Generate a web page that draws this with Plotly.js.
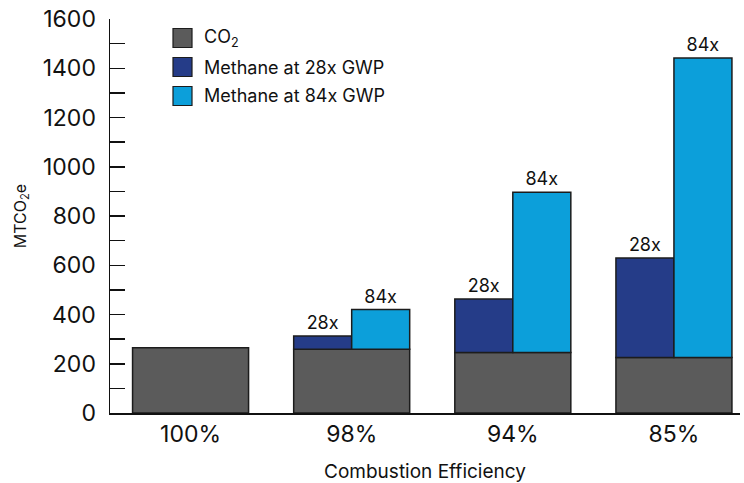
<!DOCTYPE html>
<html>
<head>
<meta charset="utf-8">
<script src="https://cdn.plot.ly/plotly-3.0.1.min.js"></script>
<style>html,body{margin:0;padding:0;background:#fff;}#chart{width:744px;height:483px;}</style>
</head>
<body>
<div id="chart"></div>
<script>
const categories = ["100%", "98%", "94%", "85%"];
const co2 = [265, 259, 246, 225];
const total28x = [null, 313, 463, 629];
const total84x = [null, 420, 896, 1442];
const label28x = "28x";
const label84x = "84x";
const seriesNames = ["CO<sub>2</sub>", "Methane at 28x GWP", "Methane at 84x GWP"];
const seriesColors = ["#5b5b5b", "#253c88", "#0c9fda"];

const FONT = "Inter, 'Liberation Sans', Arial, sans-serif";
const inc28 = total28x.map((v, i) => v == null ? null : v - co2[i]);
const inc84 = total84x.map((v, i) => v == null ? null : v - co2[i]);
const line = {color: "#1c1c1c", width: 1.5};

const traces = [
  {type: "bar", name: seriesNames[0], x: categories, y: co2, width: 0.72, offset: -0.36,
   marker: {color: seriesColors[0], line: line}, hoverinfo: "y"},
  {type: "bar", name: seriesNames[1], x: categories, y: inc28, base: co2, width: 0.36, offset: -0.36,
   marker: {color: seriesColors[1], line: line},
   text: total28x.map(v => v == null ? "" : label28x), textposition: "outside",
   textfont: {family: FONT, size: 18, color: "#111"}, cliponaxis: false},
  {type: "bar", name: seriesNames[2], x: categories, y: inc84, base: co2, width: 0.36, offset: 0,
   marker: {color: seriesColors[2], line: line},
   text: total84x.map(v => v == null ? "" : label84x), textposition: "outside",
   textfont: {family: FONT, size: 18, color: "#111"}, cliponaxis: false}
];

// custom legend (square swatches), placed in pixel terms of the figure
const W = 744, H = 483, M = {l: 110, r: 4, t: 19, b: 70};
const PW = W - M.l - M.r, PH = H - M.t - M.b;
const px2x = p => (p - M.l) / PW;
const px2y = p => (H - M.b - p) / PH;
const LEG_X = 173, LEG_Y0 = 38, LEG_STEP = 29, SQ = 19, TXT_GAP = 10;
const shapes = [], annotations = [];
seriesNames.forEach((name, i) => {
  const cy = LEG_Y0 + i * LEG_STEP;
  shapes.push({type: "rect", xref: "paper", yref: "paper",
    x0: px2x(LEG_X), x1: px2x(LEG_X + SQ), y0: px2y(cy + SQ / 2), y1: px2y(cy - SQ / 2),
    fillcolor: seriesColors[i], line: {color: "#1c1c1c", width: 1.2}});
  annotations.push({xref: "paper", yref: "paper", x: px2x(LEG_X + SQ + TXT_GAP), y: px2y(cy),
    xanchor: "left", yanchor: "middle", text: name, showarrow: false,
    font: {family: FONT, size: 18, color: "#111"}});
});

const layout = {
  width: W, height: H,
  margin: M,
  paper_bgcolor: "#fff", plot_bgcolor: "#fff",
  font: {family: FONT, color: "#111"},
  barmode: "overlay",
  showlegend: false,
  shapes: shapes, annotations: annotations,
  xaxis: {
    type: "category", range: [-0.5, 3.41],
    showline: true, linecolor: "#111", linewidth: 1.5,
    ticks: "", showgrid: false, zeroline: false,
    tickfont: {size: 23, family: FONT},
    title: {text: "Combustion Efficiency", font: {size: 19, family: FONT}, standoff: 20}
  },
  yaxis: {
    range: [0, 1600], dtick: 200,
    showline: true, linecolor: "#111", linewidth: 1.5,
    ticks: "inside", ticklen: 15, tickwidth: 1.5, tickcolor: "#111",
    minor: {dtick: 100, ticks: "inside", ticklen: 15, tickwidth: 1.5, tickcolor: "#111"},
    showgrid: false, zeroline: false,
    tickfont: {size: 23, family: FONT},
    ticklabelstandoff: 8,
    title: {text: "MTCO<sub>2</sub>e", font: {size: 16, family: FONT}, standoff: 12}
  }
};

Plotly.newPlot("chart", traces, layout, {displayModeBar: false, staticPlot: true});
</script>
</body>
</html>
